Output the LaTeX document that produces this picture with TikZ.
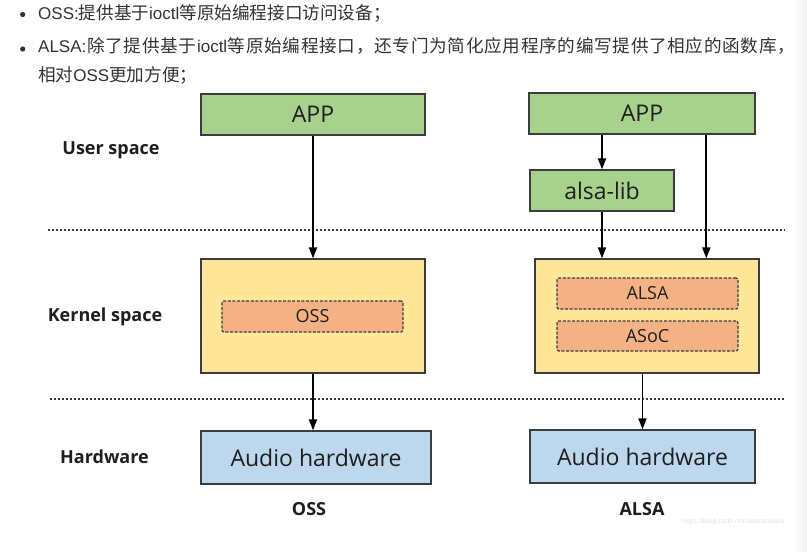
\documentclass[tikz,border=0pt]{standalone}
\usepackage{fontspec}
\setmainfont{Liberation Sans}
\newfontfamily\cjk{Noto Sans CJK SC}
\newfontfamily\diagfont{Open Sans}
\usetikzlibrary{arrows.meta,calc}

\definecolor{appgreen}{HTML}{A9D18E}
\definecolor{kernyellow}{HTML}{FFE699}
\definecolor{modsalmon}{HTML}{F4B183}
\definecolor{hwblue}{HTML}{BDD7EE}
\definecolor{edge}{HTML}{3C3C3C}
\definecolor{ink}{HTML}{1E1E1E}
\definecolor{txt}{HTML}{333333}
\definecolor{wm}{HTML}{E2E2E2}

% CJK run inside Latin text
\newcommand\zh[1]{{\cjk\fontsize{17.6}{20}\selectfont #1}}
% CJK character followed by stretchable justification glue
\newcommand\jz[1]{\zh{#1}\hfil}

\begin{document}
\begin{tikzpicture}[x=1pt,y=-1pt,
  box/.style={draw=edge, line width=1.3pt, inner sep=0pt, text=ink,
    font=\diagfont\fontsize{23}{27}\selectfont},
  greenbox/.style={box, fill=appgreen},
  kernbox/.style={box, fill=kernyellow},
  hwbox/.style={box, fill=hwblue},
  modbox/.style={draw=edge, line width=1.2pt, dash pattern=on 3pt off 1.6pt,
    rounded corners=2pt, fill=modsalmon, inner sep=0pt, text=ink,
    font=\diagfont\fontsize{18}{22}\selectfont},
  layerlabel/.style={text=ink, font=\diagfont\bfseries\fontsize{18}{22}\selectfont},
  arr/.style={draw=black, line width=1.9pt, -{Triangle[length=11pt,width=8pt]}},
  sep/.style={draw=edge, line width=1.1pt, dash pattern=on 2.4pt off 1.6pt},
  topline/.style={anchor=base west, inner sep=0pt, text=txt,
    font=\fontsize{17}{20}\selectfont}]
\useasboundingbox (0,0) rectangle (807,552);
\fill[white] (0,0) rectangle (807,552);
\shade[left color=white, right color=black!6] (792,0) rectangle (807,552);

% bulleted notes above the diagram
\fill[txt] (22.7,14.5) circle (2.6);
\fill[txt] (22.7,49) circle (2.6);
\node[topline] (l1) at (38,19.5) {OSS:\zh{提供基于}ioctl\zh{等原始编程接口访问设备；}};
\node[topline] (l2) at (38,52.5) {\hbox to 757pt{ALSA:\hfil\jz{除}\jz{了}\jz{提}\jz{供}\jz{基}\jz{于}ioctl\hfil\jz{等}\jz{原}\jz{始}\jz{编}\jz{程}\jz{接}\jz{口}\jz{，}\jz{还}\jz{专}\jz{门}\jz{为}\jz{简}\jz{化}\jz{应}\jz{用}\jz{程}\jz{序}\jz{的}\jz{编}\jz{写}\jz{提}\jz{供}\jz{了}\jz{相}\jz{应}\jz{的}\jz{函}\jz{数}\jz{库}\zh{，}}};
\node[topline] (l3) at (38,81.5) {\zh{相对}OSS\zh{更加方便；}};

% layer separators
\draw[sep] (48,230) -- (785,230);
\draw[sep] (50,399) -- (785,399);

% layer names
\node[layerlabel] (lus) at (111,150) {User space};
\node[layerlabel] (lks) at (105,317) {Kernel space};
\node[layerlabel] (lhw) at (104.5,457) {Hardware};

% OSS stack
\node[greenbox, minimum width=224pt, minimum height=41pt] (ossapp) at (313,114.5) {APP};
\node[kernbox, minimum width=224pt, minimum height=114pt] (okern) at (313,316) {};
\node[modbox, minimum width=181pt, minimum height=31pt] (ooss) at (312.5,316.5) {OSS};
\node[hwbox, minimum width=230pt, minimum height=53pt] (ohw) at (316,457.5) {Audio hardware};
\node[layerlabel] (ossname) at (309,509) {OSS};

% ALSA stack
\node[greenbox, minimum width=226pt, minimum height=41pt] (aapp) at (642,113.5) {APP};
\node[greenbox, minimum width=144pt, minimum height=41pt] (alib) at (602,190.5) {alsa-lib};
\node[kernbox, minimum width=224pt, minimum height=114pt] (akern) at (647,316) {};
\node[modbox, minimum width=181pt, minimum height=31pt] (aalsa) at (647.5,293.5) {ALSA};
\node[modbox, minimum width=181pt, minimum height=30pt] (aasoc) at (647.5,336) {ASoC};
\node[hwbox, minimum width=225pt, minimum height=53pt] (ahw) at (642.5,456.5) {Audio hardware};
\node[layerlabel] (alsaname) at (642,509) {ALSA};

% connectors
\draw[arr] (ossapp.south) -- (okern.north);
\draw[arr] (okern.south) -- (okern.south |- ohw.north);
\draw[arr] (alib.north |- aapp.south) -- (alib.north);
\draw[arr] (alib.south) -- (alib.south |- akern.north);
\coordinate (tap) at ($(aapp.south west)!0.783!(aapp.south east)$);
\draw[arr] (tap) -- (tap |- akern.north);
\draw[arr] (ahw.north |- akern.south) -- (ahw.north);

% blog watermark
\node[anchor=west, inner sep=0pt, text=wm, font=\fontsize{7}{8}\selectfont] (wmark) at (682,522) {https://blog.csdn.net/daocaokafei};
\end{tikzpicture}
\end{document}
